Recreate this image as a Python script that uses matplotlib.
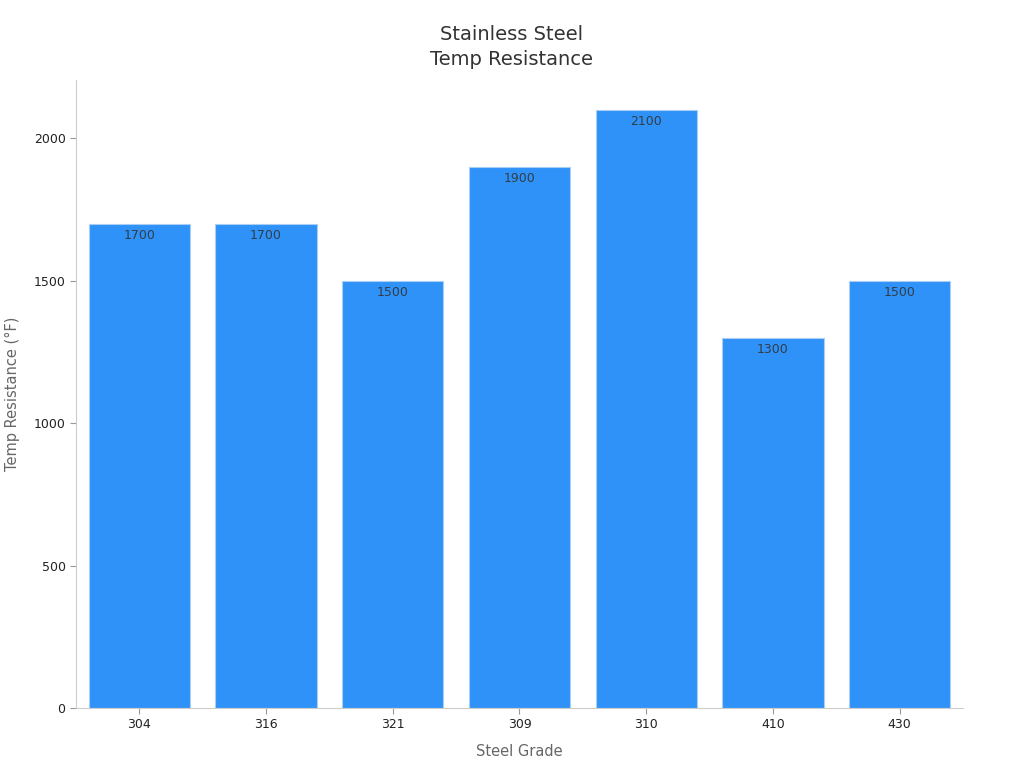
import numpy as np
from matplotlib import pyplot as plt

grades = ['304', '316', '321', '309', '310', '410', '430']
temps = [1700, 1700, 1500, 1900, 2100, 1300, 1500]

fig = plt.figure(figsize=(10.24, 7.68), dpi=100)
ax = fig.add_axes([0.0742, 0.0781, 0.8662, 0.8177])

x = np.arange(len(grades))
bars = ax.bar(x, temps, width=0.8, color='#2f92f8', edgecolor='#a9cdf5', linewidth=0.8)

for xi, v in zip(x, temps):
    ax.annotate(str(v), (xi, v), xytext=(0, -4), textcoords='offset points',
                ha='center', va='top', fontsize=9, color='#333d47')

ax.set_xlim(-0.5, 6.5)
ax.set_ylim(0, 2205)
ax.set_xticks(x)
ax.set_xticklabels(grades)
ax.set_yticks([0, 500, 1000, 1500, 2000])
ax.tick_params(labelsize=9, colors='#222222', length=4, color='#999999')

for s in ['top', 'right']:
    ax.spines[s].set_visible(False)
for s in ['left', 'bottom']:
    ax.spines[s].set_color('#cccccc')

ax.set_xlabel('Steel Grade', fontsize=10.5, color='#666666', labelpad=9)
ax.set_ylabel('Temp Resistance (°F)', fontsize=10.5, color='#666666', labelpad=10)
fig.text(0.5, 1 - 25 / 768, 'Stainless Steel\nTemp Resistance', fontsize=14,
         color='#333333', ha='center', va='top', linespacing=1.4)

fig.savefig('out.png', dpi=100)
